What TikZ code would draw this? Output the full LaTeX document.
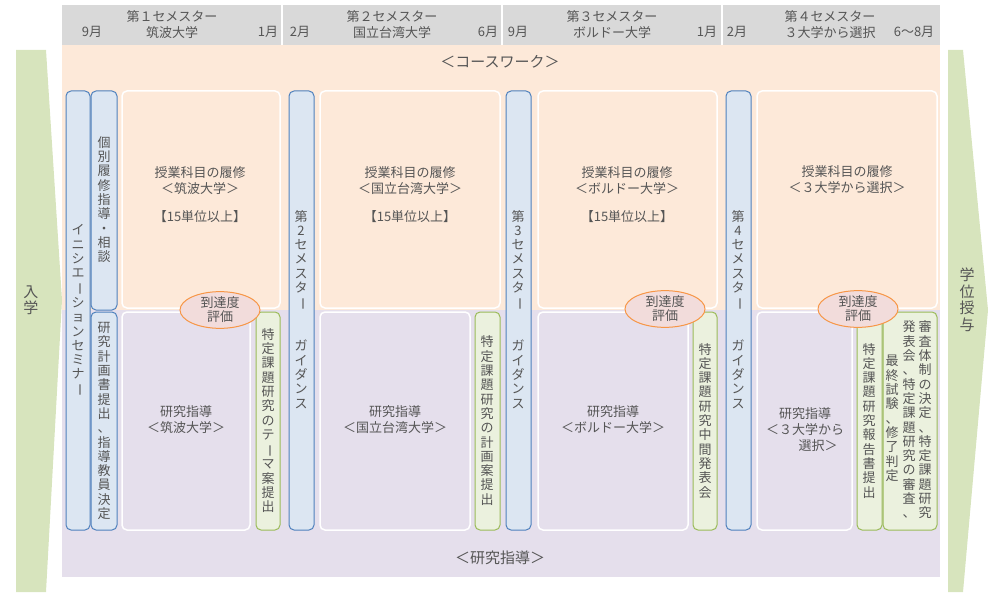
\documentclass[tikz,border=0pt]{standalone}
\usepackage{fontspec}
\usepackage{graphicx}
\setmainfont{Noto Sans CJK JP}
\definecolor{peach}{HTML}{FDE9D9}
\definecolor{purp}{HTML}{E5DFEC}
\definecolor{hdr}{HTML}{D9D9D9}
\definecolor{bfill}{HTML}{DCE6F2}
\definecolor{bline}{HTML}{4F81BD}
\definecolor{gfill}{HTML}{EBF1DE}
\definecolor{gline}{HTML}{9BBB59}
\definecolor{arrg}{HTML}{D7E4BD}
\definecolor{efill}{HTML}{F2DCDB}
\definecolor{eline}{HTML}{F79646}
\definecolor{txt}{HTML}{555555}
\def\VL{\rotatebox[origin=c]{-90}{ー}}
\ExplSyntaxOn
\NewDocumentCommand\vt{m}{\vbox{\offinterlineskip\tl_map_inline:nn{#1}{\hbox to 1.1em{\hss\vrule height .9em depth .2em width 0pt ##1\hss}}}}
\ExplSyntaxOff
\tikzset{
 box/.style={rounded corners=5pt,line width=1pt,inner sep=0pt},
 bbox/.style={box,draw=bline,fill=bfill},
 gbox/.style={box,draw=gline,fill=gfill},
 pbox/.style={box,draw=white,line width=1.5pt},
 lbl/.style={text=txt,font=\fontsize{13}{16}\selectfont,align=center,inner sep=0pt},
 ell/.style={ellipse,draw=eline,fill=efill,line width=1pt,minimum width=80pt,minimum height=32pt,lbl,font=\fontsize{13}{14}\selectfont}
}
\usetikzlibrary{shapes.geometric}
\begin{document}
\begin{tikzpicture}[x=1pt,y=-1pt]
\useasboundingbox (0,0) rectangle (1000,607);
\fill[hdr] (62,5) rectangle (940,45);
\foreach \x in {282,502,722} \draw[white,line width=1.5pt] (\x,5) -- (\x,45);
\fill[peach] (62,45) rectangle (940,310);
\fill[purp] (62,310) rectangle (940,577);
\fill[arrg] (16,50) -- (46,50) -- (62,300) -- (46,592) -- (16,592) -- cycle;
\fill[arrg] (948,50) -- (963,50) -- (988,310) -- (963,592) -- (948,592) -- cycle;
\node[lbl,font=\fontsize{15}{17}\selectfont] (in) at (31,300) {\vt{入学}};
\node[lbl,font=\fontsize{15}{17}\selectfont] (out) at (967,300) {\vt{学位授与}};
\node[lbl] (s1) at (172,25) {第１セメスター\\筑波大学};
\node[lbl] (s2) at (392,25) {第２セメスター\\国立台湾大学};
\node[lbl] (s3) at (612,25) {第３セメスター\\ボルドー大学};
\node[lbl] (s4) at (830,25) {第４セメスター\\３大学から選択};
\node[lbl] (m1) at (92,32) {9月};
\node[lbl] (m2) at (268,32) {1月};
\node[lbl] (m3) at (300,32) {2月};
\node[lbl] (m4) at (488,32) {6月};
\node[lbl] (m5) at (518,32) {9月};
\node[lbl] (m6) at (707,32) {1月};
\node[lbl] (m7) at (737,32) {2月};
\node[lbl] (m8) at (914,32) {6〜8月};
\node[lbl,font=\fontsize{15}{17}\selectfont] (cw) at (500,62) {＜コースワーク＞};
\node[lbl,font=\fontsize{15}{17}\selectfont] (rs) at (500,558) {＜研究指導＞};
\foreach \a/\b/\c in {122/280/250,320/500/470,538/717/688,757/937/852}{
 \draw[pbox,fill=peach] (\a,91) rectangle (\b,308);
 \draw[pbox,fill=purp] (\a,312) rectangle (\c,530);
}
\node[lbl] (k1) at (200,195) {授業科目の履修\\＜筑波大学＞\\[12pt]【15単位以上】};
\node[lbl] (k2) at (410,195) {授業科目の履修\\＜国立台湾大学＞\\[12pt]【15単位以上】};
\node[lbl] (k3) at (627,195) {授業科目の履修\\＜ボルドー大学＞\\[12pt]【15単位以上】};
\node[lbl] (k4) at (847,180) {授業科目の履修\\＜３大学から選択＞};
\node[lbl] (r1) at (186,420) {研究指導\\＜筑波大学＞};
\node[lbl] (r2) at (395,420) {研究指導\\＜国立台湾大学＞};
\node[lbl] (r3) at (613,420) {研究指導\\＜ボルドー大学＞};
\node[lbl] (r4) at (805,430) {研究指導\\＜３大学から\\\hspace*{2em}選択＞};
\draw[bbox] (66,91) rectangle (90,530);
\node[lbl] at (78,310) {\vt{イニシエ\VL ションセミナ\VL}};
\draw[bbox] (91,91) rectangle (117,310);
\node[lbl] at (104,200) {\vt{個別履修指導・相談}};
\draw[bbox] (91,312) rectangle (117,530);
\node[lbl] at (104,421) {\vt{研究計画書提出、指導教員決定}};
\draw[bbox] (289,91) rectangle (314,530);
\node[lbl] at (301,310) {\vt{第2セメスタ\VL{}　ガイダンス}};
\draw[bbox] (506,91) rectangle (531,530);
\node[lbl] at (518,310) {\vt{第3セメスタ\VL{}　ガイダンス}};
\draw[bbox] (726,91) rectangle (751,530);
\node[lbl] at (738,310) {\vt{第4セメスタ\VL{}　ガイダンス}};
\draw[gbox] (256,312) rectangle (280,530);
\node[lbl] at (268,421) {\vt{特定課題研究のテ\VL マ案提出}};
\draw[gbox] (475,312) rectangle (500,530);
\node[lbl] at (487,421) {\vt{特定課題研究の計画案提出}};
\draw[gbox] (693,312) rectangle (717,530);
\node[lbl] at (705,421) {\vt{特定課題研究中間発表会}};
\draw[gbox] (857,312) rectangle (882,530);
\node[lbl] at (869,421) {\vt{特定課題研究報告書提出}};
\draw[gbox] (883,312) rectangle (937,530);
\node[lbl,anchor=north] at (925,320) {\vt{審査体制の決定、特定課題研究}};
\node[lbl,anchor=north] at (909,320) {\vt{発表会、特定課題研究の審査、}};
\node[lbl,anchor=north] at (892,354) {\vt{最終試験、修了判定}};
\node[ell] (e1) at (220,310) {到達度\\評価};
\node[ell] (e3) at (665,309) {到達度\\評価};
\node[ell] (e4) at (858,309) {到達度\\評価};
\end{tikzpicture}
\end{document}
